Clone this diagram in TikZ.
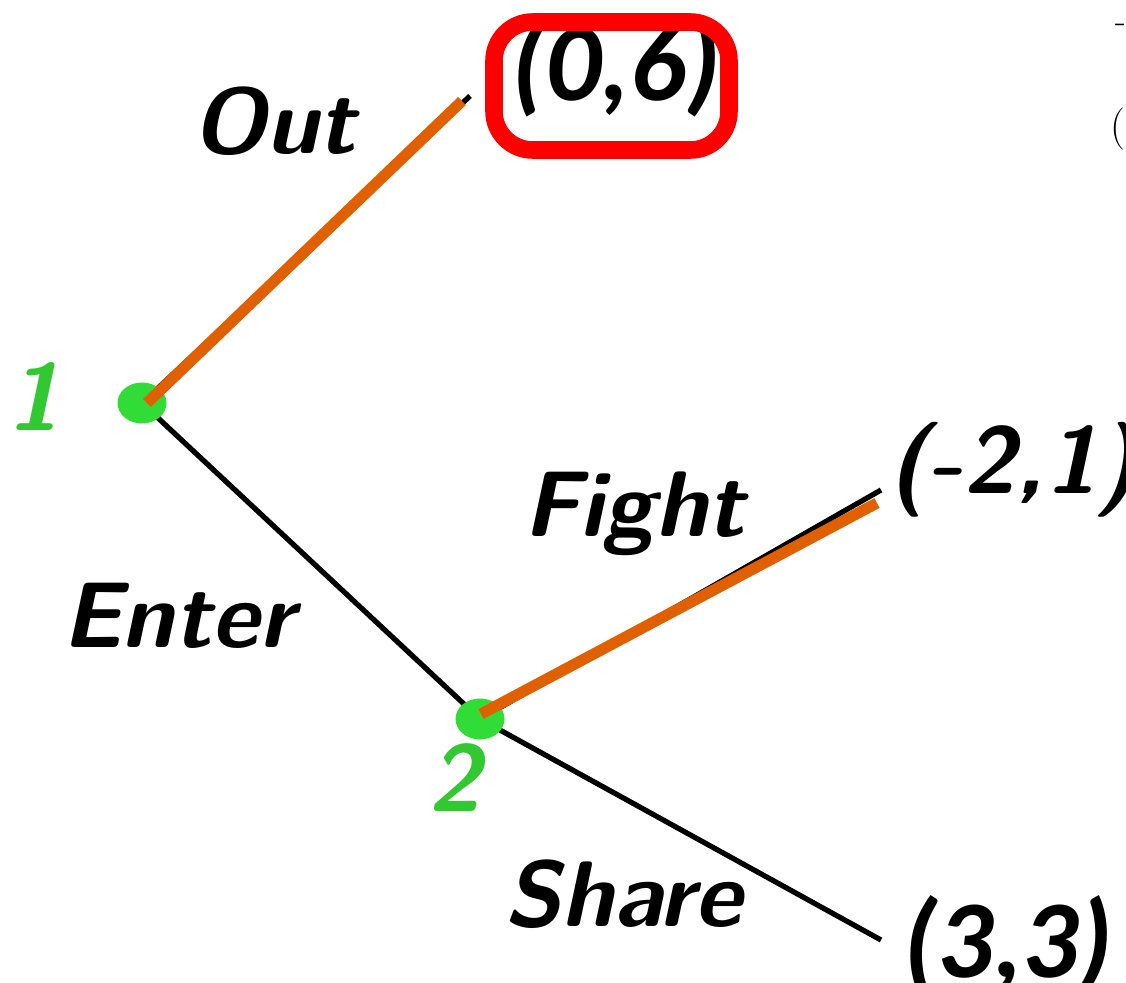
\documentclass[tikz,border=0pt]{standalone}
\usepackage{fontspec}
\newfontfamily\calib{Carlito}
\usetikzlibrary{shapes.geometric}
\definecolor{gnode}{RGB}{50,220,55}
\definecolor{gtext}{RGB}{50,200,50}
\definecolor{orng}{RGB}{224,96,0}
\definecolor{rd}{RGB}{255,0,0}
\tikzset{
  px/.style={x=0.02cm,y={(0cm,-0.02cm)}},
  decnode/.style={ellipse,fill=gnode,inner sep=0pt,minimum width=0.98cm,minimum height=0.82cm},
  branch/.style={line width=3pt,black},
  chosen/.style={line width=6.3pt,orng,line cap=butt},
  act/.style={font=\fontsize{53}{53}\selectfont\sffamily\bfseries\slshape,inner sep=0pt},
  pid/.style={text=gtext,font=\fontsize{54}{54}\selectfont\sffamily\bfseries\slshape,inner sep=0pt},
  pay/.style={font=\fontsize{63}{63}\selectfont\calib\bfseries\itshape,inner sep=0pt},
  pays/.style={font=\fontsize{54}{54}\selectfont\sffamily\bfseries\slshape,inner sep=0pt}
}
\begin{document}
\begin{tikzpicture}[px]
\clip (0,0) rectangle (1126,983);
\useasboundingbox (0,0) rectangle (1126,983);
% coordinates
\coordinate (outend) at (470,96);
\coordinate (outoend) at (462,101);
\coordinate (fightend) at (881,490);
\coordinate (fightoend) at (877,503);
\coordinate (shareend) at (881,940);
% black branches
\draw[branch] (142,403) -- (480,719);
\draw[branch] (142,403) -- (outend);
\draw[branch] (480,719) -- (fightend);
\draw[branch] (480,719) -- (shareend);
% decision nodes
\node[decnode] (n1) at (142,403) {};
\node[decnode] (n2) at (480,719) {};
% chosen (orange) branches
\draw[chosen] (147,403) -- (outoend);
\draw[chosen] (481,714) -- (fightoend);
% player labels
\node[pid] (p1) at (34,397) {1};
\node[pid] (p2) at (455,778) {2};
% action labels
\node[act] (aout) at (274,121) {Out};
\node[act] (aenter) at (178,616) {Enter};
\node[act] (afight) at (634,514) {Fight};
\node[act] (ashare) at (623,894) {Share};
% payoffs
\node[pay] (p06) at (616,68) {(0,6)};
\draw[rd,line width=10pt,rounded corners=22] (494,22) rectangle (729,150);
\node[pays,anchor=west] (pm21) at (888,470) {(-2,1)};
\node[pay,anchor=west] (p33) at (903,945) {(3,3)};
% cut-off text at the right edge
\node[font=\fontsize{20}{20}\selectfont,anchor=west,inner sep=0pt] (cutA) at (1115,28) {-};
\node[font=\fontsize{24}{24}\selectfont,anchor=west,inner sep=0pt] (cutB) at (1110,129) {(};
\end{tikzpicture}
\end{document}
